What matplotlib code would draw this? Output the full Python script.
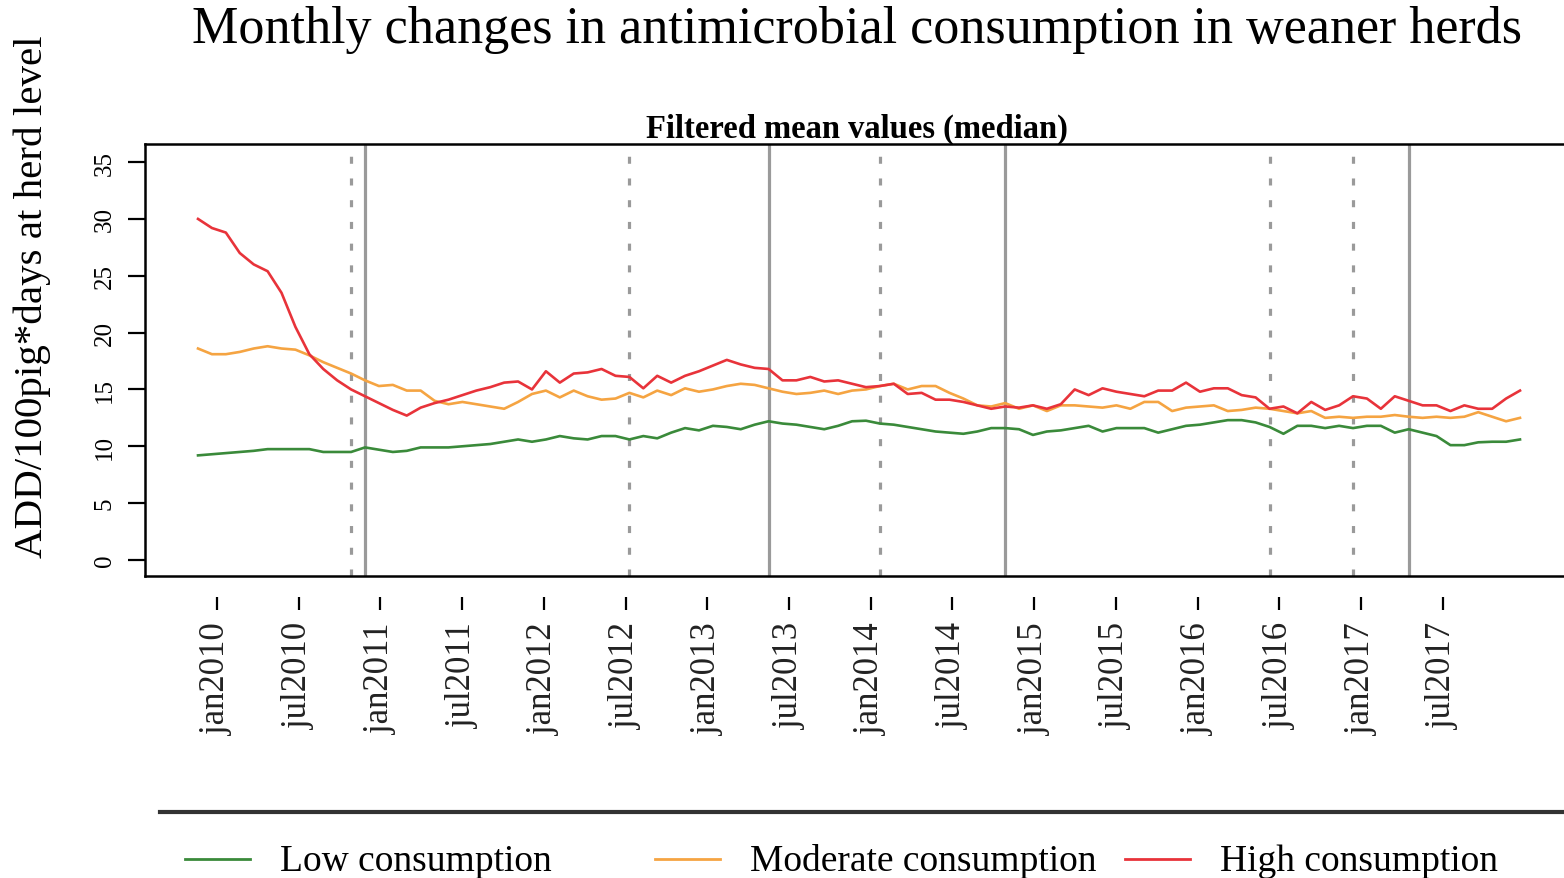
import numpy as np
import matplotlib
matplotlib.use("Agg")
import matplotlib.pyplot as plt
from matplotlib.lines import Line2D

plt.rcParams['font.family'] = ['Liberation Serif', 'DejaVu Serif']

# monthly medians, jan2010 .. dec2017
low = [9.2, 9.3, 9.4, 9.5, 9.6, 9.75, 9.75, 9.75, 9.75, 9.5, 9.5, 9.5,
       9.9, 9.7, 9.5, 9.6, 9.9, 9.9, 9.9, 10.0, 10.1, 10.2, 10.4, 10.6,
       10.4, 10.6, 10.9, 10.7, 10.6, 10.9, 10.9, 10.6, 10.9, 10.7, 11.2, 11.6,
       11.4, 11.8, 11.7, 11.5, 11.9, 12.2, 12.0, 11.9, 11.7, 11.5, 11.8, 12.2,
       12.25, 12.0, 11.9, 11.7, 11.5, 11.3, 11.2, 11.1, 11.3, 11.6, 11.6, 11.5,
       11.0, 11.3, 11.4, 11.6, 11.8, 11.3, 11.6, 11.6, 11.6, 11.2, 11.5, 11.8,
       11.9, 12.1, 12.3, 12.3, 12.1, 11.7, 11.1, 11.8, 11.8, 11.6, 11.8, 11.6,
       11.8, 11.8, 11.2, 11.5, 11.2, 10.9, 10.1, 10.1, 10.35, 10.4, 10.4, 10.6]
moderate = [18.6, 18.1, 18.1, 18.3, 18.6, 18.8, 18.6, 18.5, 18.0, 17.4, 16.9, 16.4,
            15.8, 15.3, 15.4, 14.9, 14.9, 14.0, 13.7, 13.9, 13.7, 13.5, 13.3, 13.9,
            14.6, 14.9, 14.3, 14.9, 14.4, 14.1, 14.2, 14.7, 14.3, 14.9, 14.5, 15.1,
            14.8, 15.0, 15.3, 15.5, 15.4, 15.1, 14.8, 14.6, 14.7, 14.9, 14.6, 14.9,
            15.0, 15.3, 15.5, 15.0, 15.3, 15.3, 14.7, 14.2, 13.6, 13.5, 13.8, 13.3,
            13.6, 13.1, 13.6, 13.6, 13.5, 13.4, 13.6, 13.3, 13.9, 13.9, 13.1, 13.4,
            13.5, 13.6, 13.1, 13.2, 13.4, 13.3, 13.1, 12.9, 13.1, 12.5, 12.6, 12.5,
            12.6, 12.6, 12.75, 12.6, 12.5, 12.6, 12.5, 12.6, 13.0, 12.6, 12.2, 12.5]
high = [30.0, 29.2, 28.8, 27.0, 26.0, 25.4, 23.5, 20.5, 18.1, 16.8, 15.8, 15.0,
        14.4, 13.8, 13.2, 12.7, 13.4, 13.8, 14.1, 14.5, 14.9, 15.2, 15.6, 15.7,
        15.0, 16.6, 15.6, 16.4, 16.5, 16.8, 16.2, 16.1, 15.1, 16.2, 15.6, 16.2,
        16.6, 17.1, 17.6, 17.2, 16.9, 16.8, 15.8, 15.8, 16.1, 15.7, 15.8, 15.5,
        15.2, 15.3, 15.5, 14.6, 14.7, 14.1, 14.1, 13.9, 13.6, 13.3, 13.5, 13.4,
        13.6, 13.3, 13.7, 15.0, 14.5, 15.1, 14.8, 14.6, 14.4, 14.9, 14.9, 15.6,
        14.8, 15.1, 15.1, 14.5, 14.3, 13.3, 13.5, 12.9, 13.9, 13.2, 13.6, 14.4,
        14.2, 13.3, 14.4, 14.0, 13.6, 13.6, 13.1, 13.6, 13.3, 13.3, 14.2, 14.9]

series_names = ['Low consumption', 'Moderate consumption', 'High consumption']
series_colors = ['#3a8a3a', '#f5a442', '#e8333a']

# months (index from jan2010) where changes were marked
solid_marks = [12, 41, 58, 87]
dotted_marks = [11, 31, 49, 77, 83]

tick_months = list(range(0, 96, 6))
tick_labels = [f'{m}{y}' for y in range(2010, 2018) for m in ('jan', 'jul')]

W, H = 1564, 879


def fx(px):
    return px / W


def fy(py):
    return 1 - py / H


fig = plt.figure(figsize=(W / 100, H / 100), dpi=100)

months = np.arange(len(low))

ax = fig.add_axes([fx(145), fy(577), fx(1590) - fx(145), fy(145) - fy(577)])
for m in solid_marks:
    ax.axvline(m, color='#9a9a9a', lw=2.3, zorder=1)
for m in dotted_marks:
    ax.axvline(m, color='#9a9a9a', lw=2.3, ls=(0, (2.2, 4.6)), zorder=1)
for vals, col in zip([low, moderate, high], series_colors):
    ax.plot(months, vals, color=col, lw=1.9, zorder=3)

ax.set_xlim(-3.81, 100.03)
ax.set_ylim(-1.41, 36.59)
ax.set_xticks([])
ax.set_yticks(range(0, 36, 5))
ax.set_yticklabels([str(v) for v in range(0, 36, 5)], rotation=90, va='center',
                   fontsize=18)
ax.tick_params(axis='y', length=12, width=1.6, pad=9)
for s in ax.spines.values():
    s.set_linewidth(1.8)
ax.spines['right'].set_visible(False)
ax.set_title('Filtered mean values (median)', fontweight='bold', fontsize=23.5,
             x=0.493, pad=3)

# date axis underneath
ax2 = fig.add_axes([0, fy(598), 1, 0.001])
ax2.set_xlim(-217 / 13.62, (W - 217) / 13.62)
ax2.set_xticks(tick_months)
ax2.set_xticklabels(tick_labels, rotation=90, fontsize=25, color='#222222')
ax2.tick_params(axis='x', direction='out', length=9, width=1.6, pad=9)
ax2.set_yticks([])
for s in ax2.spines.values():
    s.set_visible(False)
ax2.patch.set_visible(False)

fig.text(fx(857), fy(30), 'Monthly changes in antimicrobial consumption in weaner herds',
         ha='center', va='center', fontsize=37.5)
fig.text(fx(32), fy(297), 'ADD/100pig*days at herd level', rotation=90,
         ha='center', va='center', fontsize=29.5)

# legend strip
fig.add_artist(Line2D([fx(160), fx(1570)], [fy(813), fy(813)],
                      transform=fig.transFigure, color='#333333', lw=3))
handle_x = [185, 655, 1125]
for hx, name, col in zip(handle_x, series_names, series_colors):
    fig.add_artist(Line2D([fx(hx), fx(hx + 65)], [fy(860), fy(860)],
                          transform=fig.transFigure, color=col, lw=2))
    fig.text(fx(hx + 95), fy(862), name, ha='left', va='center', fontsize=27)

fig.savefig('out.png', dpi=100)
